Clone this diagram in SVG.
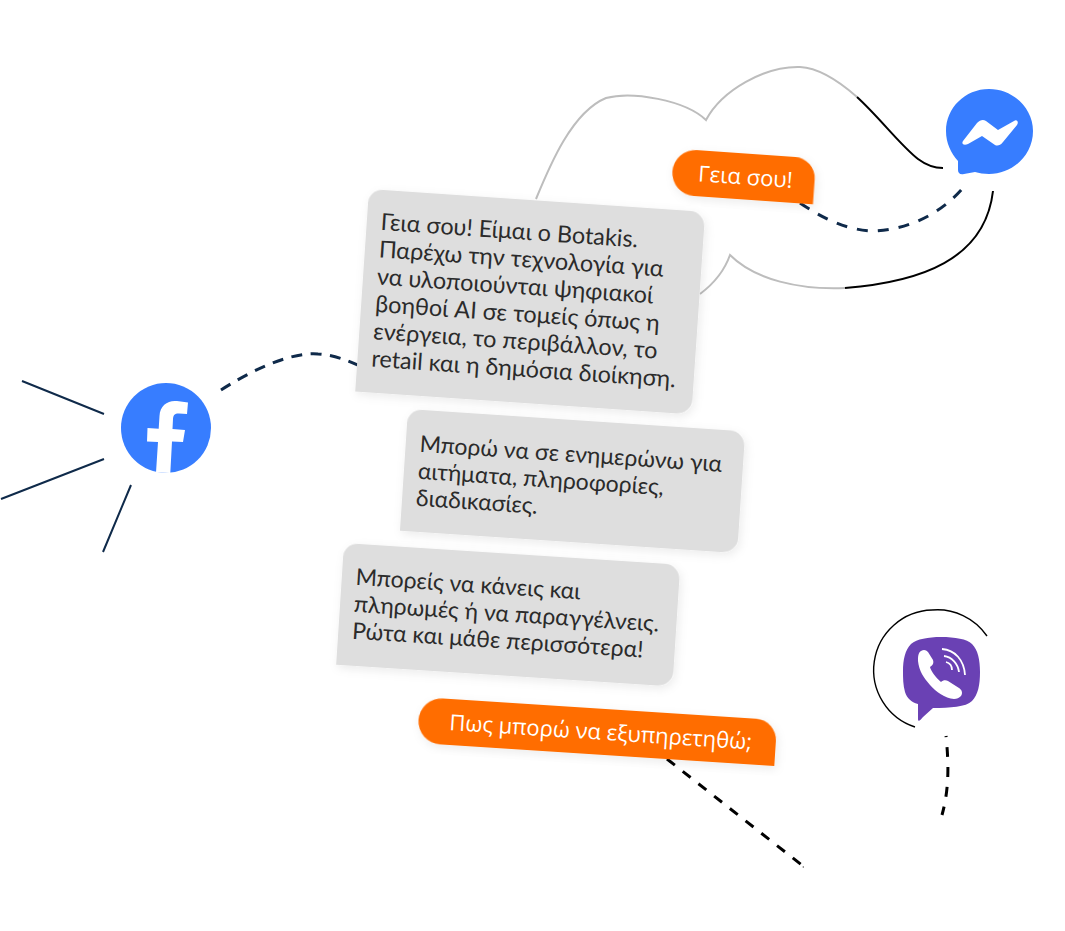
<svg xmlns="http://www.w3.org/2000/svg" width="1065" height="931" viewBox="0 0 1065 931">
<defs>
<filter id="soft" x="-10%" y="-20%" width="120%" height="140%"><feDropShadow dx="2" dy="3" stdDeviation="5" flood-color="#000" flood-opacity="0.08"/></filter>
</defs>
<style>
.grey{fill:#dedede;filter:url(#soft)}
.orange{fill:#ff6d03;filter:url(#soft)}
.msg{font-family:"Lato","Noto Sans",sans-serif;font-size:23.4px;fill:#2b2b2b}
.msg2{font-family:"Lato","Noto Sans",sans-serif;font-size:23px;fill:#2b2b2b}
.say{font-family:"Open Sans","Noto Sans",sans-serif;font-size:22px;fill:#fff}
.thin{fill:none;stroke:#bdbdbd;stroke-width:2}
.ink{fill:none;stroke:#000;stroke-width:2}
.ring{fill:none;stroke:#000;stroke-width:1.4}
.dash{fill:none;stroke:#0f2a4a;stroke-width:3;stroke-dasharray:11 10}
.dashf{fill:none;stroke:#0f2a4a;stroke-width:3;stroke-dasharray:11 8.5}
.dashk{fill:none;stroke:#000;stroke-width:3;stroke-dasharray:10 10}
.ray{fill:none;stroke:#0f2a4a;stroke-width:2}
</style>
<g id="connectors">
<path class="thin" d="M536 199C550 165 572 112 606 98C632 91 685 100 706 120C722 90 765 66 800 67C820 68 840 82 857 97"/>
<path class="ink" d="M857 97C880 118 900 145 918 159C926 165 934 168 943 168"/>
<path class="thin" d="M700 294C712 285 724 272 730 255C755 280 800 290 845 288"/>
<path class="ink" d="M845 288C920 282 985 260 993 191"/>
<path class="dash" d="M800 203C825 220 850 231 875 231C915 229 948 208 967 183"/>
<path class="dashf" d="M221 390C260 365 295 352 318 354C335 355 350 361 370 371"/>
<path class="dashk" stroke-dashoffset="9" d="M946 736C949 765 949 790 942 815"/>
<path class="dashk" d="M667 759L803 866"/>
<path class="ray" d="M22 381L104 414M1 499L104 459M131 485L103 552"/>
<path class="ring" d="M932 610A60 60 0 0 1 987 636"/>
<path class="ring" d="M932 610A60 60 0 0 0 915 727"/>
</g>
<g id="bubble-intro" transform="translate(369 189) rotate(3.9)">
<path class="grey" d="M14 0H322A15 15 0 0 1 337 15L337 188A15 15 0 0 1 322 203H0L0 14A14 14 0 0 1 14 0Z"/>
<text class="msg" x="14" y="40">Γεια σου! Είμαι ο Botakis.</text>
<text class="msg" x="14" y="67.400">Παρέχω την τεχνολογία για</text>
<text class="msg" x="14" y="94.800">να υλοποιούνται ψηφιακοί</text>
<text class="msg" x="14" y="122.200">βοηθοί AI σε τομείς όπως η</text>
<text class="msg" x="14" y="149.600">ενέργεια, το περιβάλλον, το</text>
<text class="msg" x="14" y="177">retail και η δημόσια διοίκηση.</text>
</g>
<g id="bubble-info" transform="translate(408 409) rotate(3.8)">
<path class="grey" d="M14 0H323A15 15 0 0 1 338 15V107A15 15 0 0 1 323 122H0L0 14A14 14 0 0 1 14 0Z"/>
<text class="msg2" x="14" y="42">Μπορώ να σε ενημερώνω για</text>
<text class="msg2" x="14" y="69">αιτήματα, πληροφορίες,</text>
<text class="msg2" x="14" y="96">διαδικασίες.</text>
</g>
<g id="bubble-pay" transform="translate(344 543) rotate(3.7)">
<path class="grey" d="M14 0H322A15 15 0 0 1 337 15V107A15 15 0 0 1 322 122H0L0 14A14 14 0 0 1 14 0Z"/>
<text class="msg2" x="14" y="41">Μπορείς να κάνεις και</text>
<text class="msg2" x="14" y="68">πληρωμές ή να παραγγέλνεις.</text>
<text class="msg2" x="14" y="95">Ρώτα και μάθε περισσότερα!</text>
</g>
<g id="bubble-hello" transform="translate(674 148.500) rotate(4)">
<path class="orange" d="M23 0H121A21 21 0 0 1 142.500 21L142.500 46H23A23 23 0 0 1 23 0Z"/>
<text class="say" x="26" y="31">Γεια σου!</text>
</g>
<g id="bubble-ask" transform="translate(420 697) rotate(3.7)">
<path class="orange" d="M23 0H337A21 21 0 0 1 358 21L358 46H23A23 23 0 0 1 23 0Z"/>
<text class="say" x="31" y="31">Πως μπορώ να εξυπηρετηθώ;</text>
</g>
<g id="facebook">
<circle cx="166" cy="428" r="45" fill="#377dff"/>
<path fill="#fff" d="M156 472.600L158 442L147 441.500L147.500 428L158.700 428.700L159.500 416C160 405 168 400 177 401L188 402.500L187 414L179 413.500C175 413.300 173.300 415 173 419L172.500 429L185 430L183 442L172 441.500L170.300 473Z"/>
</g>
<g id="messenger">
<path fill="#377dff" d="M989 89C1013 89 1033 108 1033 131C1033 155 1013 174 989 174C984 174 979 173 975 172L964 174C960 175 958 173 958 170V161C951 153 946 143 946 131C946 108 965 89 989 89Z"/>
<path fill="#fff" d="M963 141L977 123C980 120 983 119 986 121L998 130L1014 121C1017 119 1019 122 1017 125L1003 142C1000 146 997 146 995 145L982 136L968 144C964 146 961 144 963 141Z"/>
</g>
<g id="viber">
<path fill="#6a41b4" d="M941 637C955 637 967 639 972 644C978 650 980 660 980 672C980 685 978 695 972 701C966 707 950 708 933 708L923 717C920 721 918 722 918 719V704C911 702 907 698 905 692C903 685 903 678 903 671C903 660 905 650 911 644C917 639 928 637 941 637Z"/>
<path fill="#fff" d="M921 651C924 649 926 650 928 652L933 660C934 663 933 665 930 667C931 671 936 678 941 682C943 680 946 680 948 681L959 688C962 690 963 693 961 696C959 698 957 699 954 699C945 698 936 692 930 685C924 678 919 671 918 661C918 657 918 653 921 651Z"/>
<path fill="none" stroke="#fff" stroke-width="1.800" d="M942 649C955 650 964 660 965 675M944 656C952 657 958 664 959 672M946 662C950 663 952 666 952 670"/>
</g>
<path d="M802 867l2 -1v2z" fill="#777"/>
</svg>
